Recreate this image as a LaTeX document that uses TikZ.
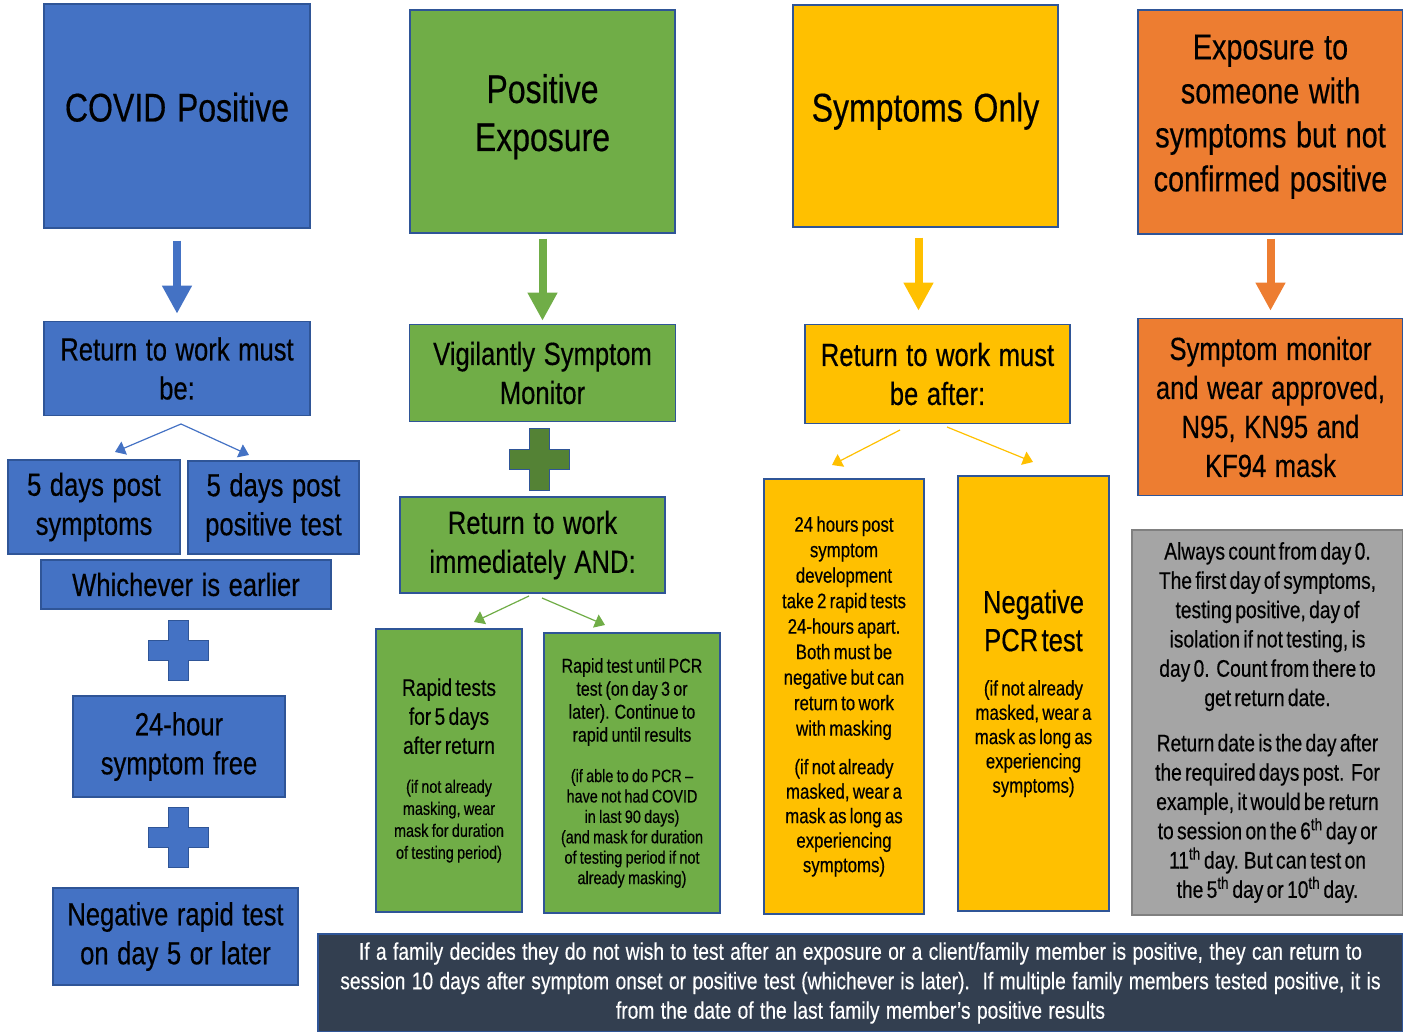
\documentclass[tikz,border=0pt]{standalone}
\usepackage{fontspec}
\setmainfont[FakeStretch=0.8, FakeBold=0.4, WordSpace=1.2]{Liberation Sans}
\usepackage{tikz}
\usetikzlibrary{positioning}
\usetikzlibrary{calc}
\usetikzlibrary{arrows.meta}
\definecolor{cblue}{HTML}{4472C4}
\definecolor{cgreen}{HTML}{70AD47}
\definecolor{cdkgreen}{HTML}{548235}
\definecolor{cyellow}{HTML}{FFC000}
\definecolor{corange}{HTML}{ED7D31}
\definecolor{cgrey}{HTML}{A5A5A5}
\definecolor{cnavy}{HTML}{333F50}
\definecolor{boxline}{HTML}{2F5597}
\newcommand{\szhead}{\fontsize{40}{48}\selectfont}
\newcommand{\szexpo}{\fontsize{36}{44}\selectfont}
\newcommand{\szbox}{\fontsize{32}{39}\selectfont}
\newcommand{\szmid}{\fontsize{24}{29}\selectfont}
\newcommand{\szsmall}{\fontsize{18}{22}\selectfont}
\newcommand{\szrp}{\fontsize{20}{23}\selectfont}
\newcommand{\sznote}{\fontsize{24}{29.3}\selectfont}
\tikzstyle{box} = [draw=boxline, line width=1.5pt, rectangle, align=center, inner sep=2pt]
\tikzstyle{bluebox} = [box, fill=cblue]
\tikzstyle{greenbox} = [box, fill=cgreen]
\tikzstyle{yellowbox} = [box, fill=cyellow]
\tikzstyle{orangebox} = [box, fill=corange]
\tikzstyle{greybox} = [box, draw=gray, fill=cgrey]
\tikzstyle{headbox} = [text depth=18pt]
\tikzstyle{bigarrow} = [line width=8pt, -{Triangle[width=28pt,length=28pt]}]
\tikzstyle{smallarrow} = [line width=1.2pt, -{Triangle[width=14pt,length=10pt]}]
\tikzstyle{coord} = [coordinate]

\begin{document}
\begin{tikzpicture}[x=1pt,y=-1pt]
    \useasboundingbox (0,0) rectangle (1403,1032);
    % top row
    \node [bluebox, headbox, minimum width=266pt, minimum height=224pt, font=\szhead] (cp) at (177,116) {COVID Positive};
    \node [greenbox, headbox, minimum width=265pt, minimum height=223pt, font=\szhead] (pe) at (542.5,121.5) {Positive\\Exposure};
    \node [yellowbox, headbox, minimum width=265pt, minimum height=222pt, font=\szhead] (so) at (925.5,116) {Symptoms Only};
    \node [orangebox, headbox, minimum width=265pt, minimum height=224pt, font=\szexpo] (ex) at (1270.5,122) {Exposure to\\someone with\\symptoms but not\\confirmed positive};

    % second row
    \node [bluebox, below=92pt of cp, minimum width=266pt, minimum height=94pt, font=\szbox] (r1) {Return to work must\\be:};
    \node [greenbox, below=90pt of pe, minimum width=266pt, minimum height=97pt, font=\szbox] (vm) {Vigilantly Symptom\\Monitor};
    \node [yellowbox, below=96pt of so, xshift=12pt, minimum width=265pt, minimum height=99pt, font=\szbox] (ra) {Return to work must\\be after:};
    \node [orangebox, below=83pt of ex, minimum width=265pt, minimum height=177pt, font=\szbox] (sm) {Symptom monitor\\and wear approved,\\N95, KN95 and\\KF94 mask};

    \draw [bigarrow, cblue, shorten <=12pt, shorten >=7pt] (cp.south) -- (r1.north);
    \draw [bigarrow, cgreen, shorten <=5pt, shorten >=3pt] (pe.south) -- (pe.south |- vm.north);
    \draw [bigarrow, cyellow, shorten <=10pt, shorten >=13pt] ([xshift=-7pt]so.south) -- ([xshift=-7pt]so.south |- ra.north);
    \draw [bigarrow, corange, shorten <=4pt, shorten >=7pt] (ex.south) -- (ex.south |- sm.north);

    % covid positive column
    \node [bluebox, minimum width=172pt, minimum height=94pt, font=\szbox] (d1) at (94,507) {5 days post\\symptoms};
    \node [bluebox, minimum width=171pt, minimum height=93pt, font=\szbox] (d2) at (273.5,507.5) {5 days post\\positive test};
    \node [bluebox, minimum width=290pt, minimum height=49pt, font=\szbox] (we) at (186,584.5) {Whichever is earlier};
    \node [bluebox, minimum width=212pt, minimum height=101pt, font=\szbox] (sf) at (179,746.5) {24-hour\\symptom free};
    \node [bluebox, minimum width=245pt, minimum height=97pt, font=\szbox] (nr) at (175.5,936.5) {Negative rapid test\\on day 5 or later};

    \coordinate (r1a) at (181,424);
    \coordinate (d1a) at (115,452);
    \coordinate (d2a) at (249,455);
    \draw [smallarrow, cblue] (r1a) -- (d1a);
    \draw [smallarrow, cblue] (r1a) -- (d2a);

    \coordinate (plus1) at (178,650);
    \coordinate (plus2) at (178,837);
    \foreach \p in {plus1,plus2}
        \filldraw [fill=cblue, draw=boxline, line width=0.8pt] (\p) ++(-10,-30) -- ++(20,0) -- ++(0,20) -- ++(20,0) -- ++(0,20) -- ++(-20,0) -- ++(0,20) -- ++(-20,0) -- ++(0,-20) -- ++(-20,0) -- ++(0,-20) -- ++(20,0) -- cycle;

    % positive exposure column
    \coordinate (plusg) at (539,459);
    \filldraw [fill=cdkgreen, draw=boxline, line width=0.8pt] (plusg) ++(-10,-31) -- ++(20,0) -- ++(0,21) -- ++(20,0) -- ++(0,20) -- ++(-20,0) -- ++(0,21) -- ++(-20,0) -- ++(0,-21) -- ++(-20,0) -- ++(0,-20) -- ++(20,0) -- cycle;
    \node [greenbox, minimum width=265pt, minimum height=96pt, font=\szbox] (ri) at (532.5,545) {Return to work\\immediately AND:};
    \node [greenbox, minimum width=146pt, minimum height=283pt, text width=140pt] (rt) at (449,770.5)
        {\szmid Rapid tests\\for 5 days\\after return\par\vspace{17pt}\szsmall (if not already\\masking, wear\\mask for duration\\of testing period)\par\vspace{8pt}};
    \node [greenbox, minimum width=176pt, minimum height=280pt, text width=172pt] (rp) at (632,773)
        {\szrp Rapid test until PCR\\test (on day 3 or\\later). Continue to\\rapid until results\par\vspace{20pt}\fontsize{18}{20.4}\selectfont (if able to do PCR --\\have not had COVID\\in last 90 days)\\(and mask for duration\\of testing period if not\\already masking)\par};

    \coordinate (ria) at (529,596);
    \coordinate (rta) at (474,622);
    \coordinate (rib) at (542,598);
    \coordinate (rpa) at (605,625);
    \draw [smallarrow, cgreen] (ria) -- (rta);
    \draw [smallarrow, cgreen] (rib) -- (rpa);

    % symptoms only column
    \node [yellowbox, minimum width=160pt, minimum height=435pt, text width=156pt] (h24) at (844,696.5)
        {\fontsize{21}{25.5}\selectfont 24 hours post\\symptom\\development\\take 2 rapid tests\\24-hours apart.\\Both must be\\negative but can\\return to work\\with masking\par\vspace{14pt}\fontsize{21}{24.5}\selectfont (if not already\\masked, wear a\\mask as long as\\experiencing\\symptoms)\par};
    \node [yellowbox, minimum width=151pt, minimum height=435pt, text width=147pt] (pcr) at (1033.5,693.5)
        {\fontsize{32}{38}\selectfont Negative\\PCR test\par\vspace{20pt}\fontsize{21}{24.3}\selectfont (if not already\\masked, wear a\\mask as long as\\experiencing\\symptoms)\par\vspace{10pt}};

    \coordinate (raa) at (900,430);
    \coordinate (h24a) at (832,465);
    \coordinate (rab) at (947,427);
    \coordinate (pcra) at (1033,462);
    \draw [smallarrow, cyellow] (raa) -- (h24a);
    \draw [smallarrow, cyellow] (rab) -- (pcra);

    % notes
    \node [greybox, minimum width=271pt, minimum height=385pt, text width=267pt] (note) at (1267.5,722.5)
        {\sznote Always count from day 0.\\The first day of symptoms,\\testing positive, day of\\isolation if not testing, is\\day 0.\ \ Count from there to\\get return date.\par\vspace{16pt}Return date is the day after\\the required days post.\ \ For\\example, it would be return\\to session on the 6\textsuperscript{th} day or\\11\textsuperscript{th} day. But can test on\\the 5\textsuperscript{th} day or 10\textsuperscript{th} day.\par};
    \node [box, fill=cnavy, minimum width=1085pt, minimum height=98pt, text=white, font={\fontsize{24}{29.5}\selectfont}] (fam) at (860.5,983)
        {If a family decides they do not wish to test after an exposure or a client/family member is positive, they can return to\\session 10 days after symptom onset or positive test (whichever is later).\ \ If multiple family members tested positive, it is\\from the date of the last family member's positive results};
\end{tikzpicture}
\end{document}
